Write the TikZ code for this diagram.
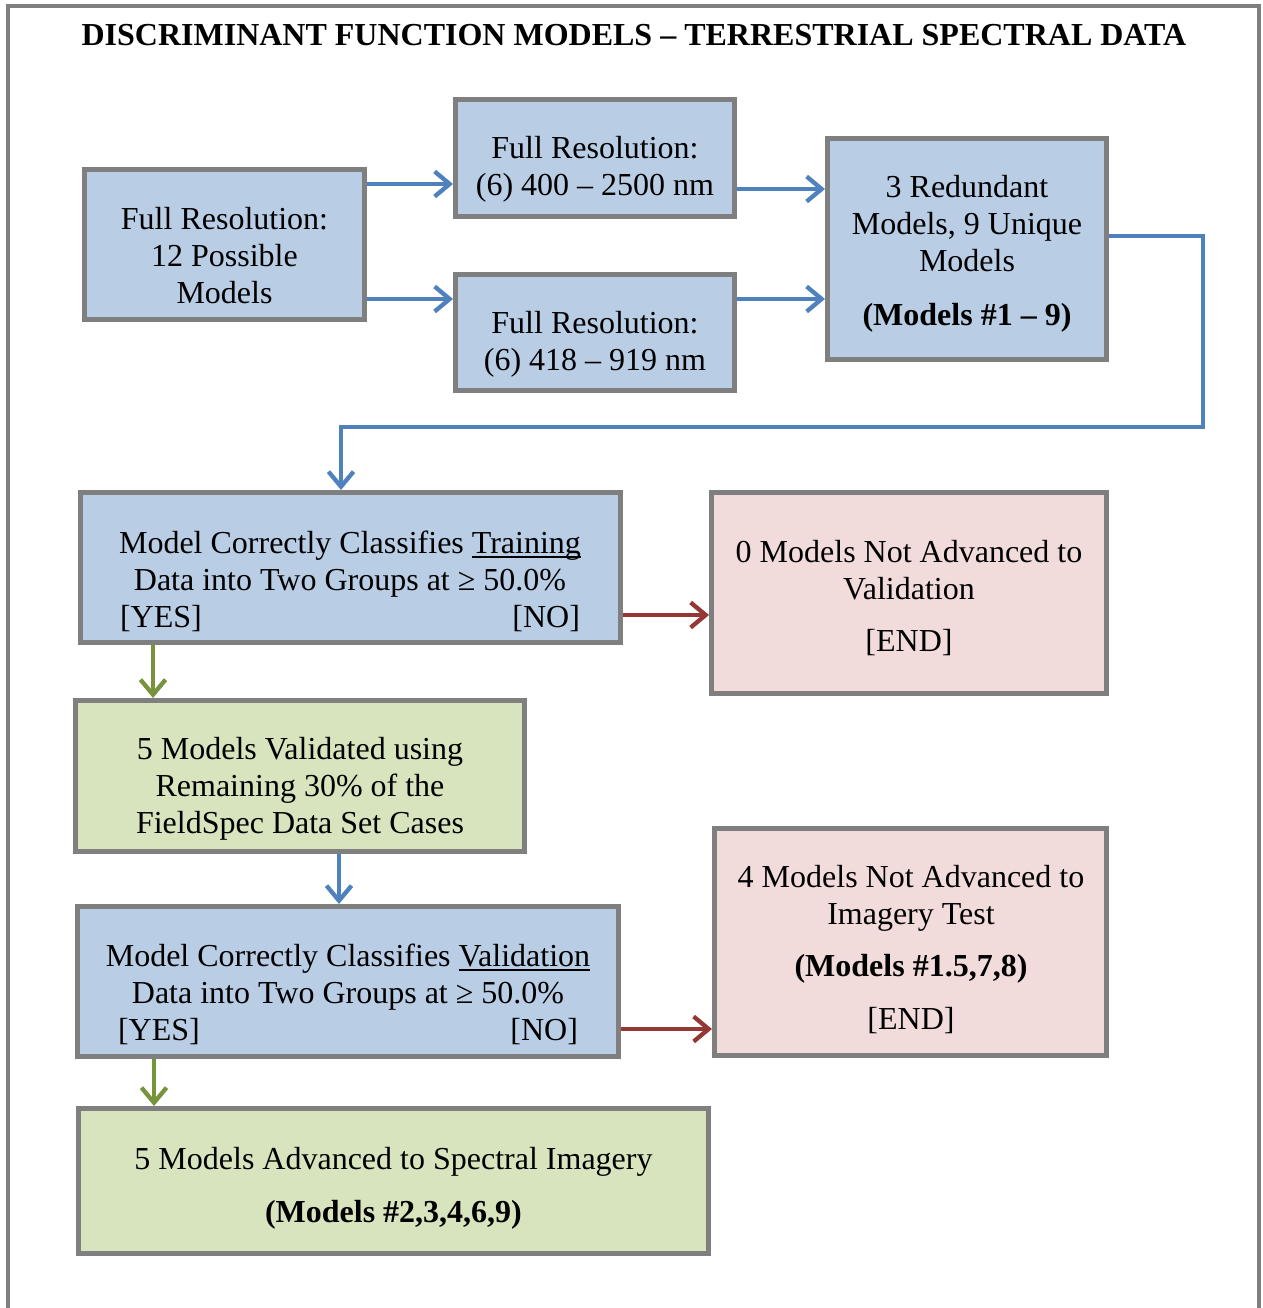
\documentclass[tikz,border=0pt]{standalone}
\usepackage{fontspec}
\setmainfont{Liberation Serif}
\usetikzlibrary{arrows.meta}

\definecolor{boxblue}{HTML}{B9CDE5}
\definecolor{boxgreen}{HTML}{D7E4BD}
\definecolor{boxpink}{HTML}{F2DCDB}
\definecolor{edgegray}{HTML}{7F7F7F}
\definecolor{lineblue}{HTML}{4F81BD}
\definecolor{linegreen}{HTML}{77933C}
\definecolor{linered}{HTML}{953735}

% underline set a fixed distance below the baseline
\newsavebox\ulbox
\newcommand\undl[1]{\sbox\ulbox{#1}\rlap{\rule[-4.5pt]{\wd\ulbox}{1.8pt}}\usebox\ulbox}

\tikzset{
  flowbox/.style={draw=edgegray, line width=5pt, rectangle, inner sep=0pt},
  flowblue/.style={flowbox, fill=boxblue},
  flowgreen/.style={flowbox, fill=boxgreen},
  flowpink/.style={flowbox, fill=boxpink},
  txt/.style={font=\fontsize{32}{37}\selectfont, align=center, inner sep=0pt},
  tip/.style={-{Straight Barb[length=15pt,width=25pt]}},
  bline/.style={draw=lineblue, line width=4.3pt, tip},
  gline/.style={draw=linegreen, line width=4.3pt, tip},
  rline/.style={draw=linered, line width=4.3pt, tip},
}

\begin{document}
\begin{tikzpicture}[x=1pt,y=-1pt]
\useasboundingbox (0,0) rectangle (1262,1308);
\fill[white] (0,0) rectangle (1262,1308);
% outer frame, open at the foot of the page
\draw[edgegray, line width=4pt] (8,1312) -- (8,6) -- (1259,6) -- (1259,1312);

\node[txt, font=\fontsize{32}{37}\selectfont\bfseries] (title) at (634,35)
  {DISCRIMINANT FUNCTION MODELS – TERRESTRIAL SPECTRAL DATA};

% boxes
\node[flowblue, minimum width=280pt, minimum height=150pt] (b1) at (224.5,244.5) {};
\node[flowblue, minimum width=279pt, minimum height=117pt] (b2) at (595,158) {};
\node[flowblue, minimum width=279pt, minimum height=116pt] (b3) at (595,332.5) {};
\node[flowblue, minimum width=279pt, minimum height=221pt] (b4) at (967,249) {};
\node[flowblue, minimum width=540pt, minimum height=150pt] (b5) at (350.5,567.5) {};
\node[flowpink, minimum width=395pt, minimum height=201pt] (b6) at (909,593) {};
\node[flowgreen, minimum width=449pt, minimum height=151pt] (b7) at (300,776) {};
\node[flowblue, minimum width=541pt, minimum height=150pt] (b8) at (348,981.5) {};
\node[flowpink, minimum width=392pt, minimum height=227pt] (b9) at (910.5,942) {};
\node[flowgreen, minimum width=630pt, minimum height=145pt] (b10) at (393.5,1181) {};

% box texts
\node[txt] (t1) at (224.5,256) {Full Resolution:\\12 Possible\\Models};
\node[txt] (t2) at (595,169) {Full Resolution:\\(6) 400 – 2500 nm};
\node[txt] (t3) at (595,344) {Full Resolution:\\(6) 418 – 919 nm};
\node[txt] (t4) at (967,253.5) {3 Redundant\\Models, 9 Unique\\Models\\[17pt]\textbf{(Models \#1 – 9)}};
\node[txt] (t5) at (350,581) {Model Correctly Classifies \undl{Training}\\Data into Two Groups at ≥ 50.0\%\\\makebox[460pt]{[YES]\hfill[NO]}};
\node[txt] (t6) at (909,598) {0 Models Not Advanced to\\Validation\\[15pt][END]};
\node[txt] (t7) at (300,789) {5 Models Validated using\\Remaining 30\% of the\\FieldSpec Data Set Cases};
\node[txt] (t8) at (348,994.5) {Model Correctly Classifies \undl{Validation}\\Data into Two Groups at ≥ 50.0\%\\\makebox[460pt]{[YES]\hfill[NO]}};
\node[txt] (t9) at (911,950) {4 Models Not Advanced to\\Imagery Test\\[15pt]\textbf{(Models \#1.5,7,8)}\\[16pt][END]};
\node[txt] (t10) at (393.5,1188.5) {5 Models Advanced to Spectral Imagery\\[16pt]\textbf{(Models \#2,3,4,6,9)}};

% connectors
\draw[bline] (b1.east |- 0,184) -- (b2.west |- 0,184);
\draw[bline] (b1.east |- 0,299) -- (b3.west |- 0,299);
\draw[bline] (b2.east |- 0,189) -- (b4.west |- 0,189);
\draw[bline] (b3.east |- 0,299) -- (b4.west |- 0,299);
\draw[bline] (b4.east |- 0,236) -- (1203,236) -- (1203,427) -- (341,427) -- (b5.north -| 341,0);
\draw[rline] (b5.east |- 0,615) -- (b6.west |- 0,615);
\draw[gline] (b5.south -| 153,0) -- (b7.north -| 153,0);
\draw[bline] (b7.south -| 339,0) -- (b8.north -| 339,0);
\draw[rline] (b8.east |- 0,1029) -- (b9.west |- 0,1029);
\draw[gline] (b8.south -| 154,0) -- (b10.north -| 154,0);
\end{tikzpicture}
\end{document}
